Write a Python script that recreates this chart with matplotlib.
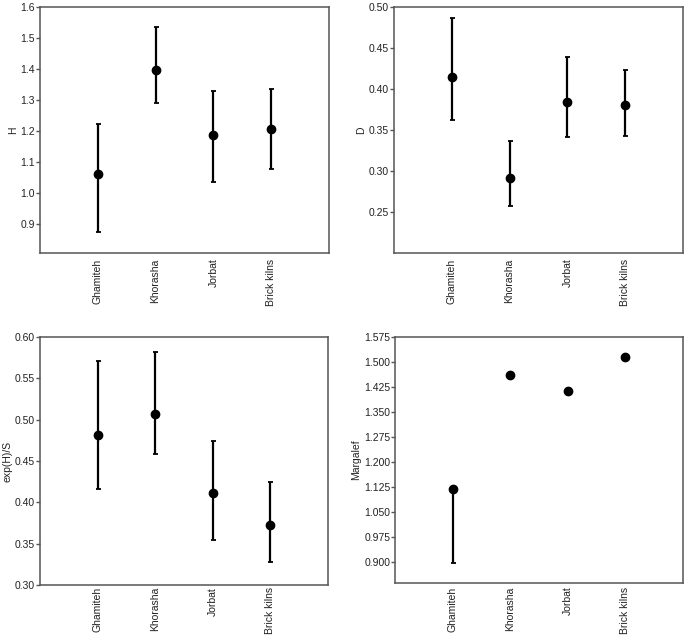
import matplotlib
matplotlib.use("Agg")
import matplotlib.pyplot as plt
import numpy as np

plt.rcParams['font.family'] = ['Liberation Sans', 'DejaVu Sans']

sites = ["Ghamiteh", "Khorasha", "Jorbat", "Brick kilns"]

# Shannon H: mean, lower, upper
h_mean = [1.060, 1.397, 1.186, 1.207]
h_low = [0.872, 1.289, 1.035, 1.078]
h_high = [1.221, 1.536, 1.329, 1.334]

# Dominance D
d_mean = [0.415, 0.292, 0.3845, 0.380]
d_low = [0.362, 0.257, 0.342, 0.343]
d_high = [0.487, 0.336, 0.439, 0.423]

# Evenness exp(H)/S
e_mean = [0.482, 0.507, 0.411, 0.373]
e_low = [0.416, 0.458, 0.354, 0.328]
e_high = [0.571, 0.582, 0.474, 0.424]

# Margalef (only Ghamiteh has a lower bar)
m_mean = [1.120, 1.461, 1.414, 1.515]
m_low = [0.898, 1.461, 1.414, 1.515]
m_high = [1.120, 1.461, 1.414, 1.515]

panels = [
    dict(mean=h_mean, low=h_low, high=h_high, label="H",
         ylim=(0.805, 1.6), ticks=np.arange(0.9, 1.61, 0.1), fmt="{:.1f}",
         rect=[40 / 685, 1 - 253 / 639, 289 / 685, 246 / 639], xpad=4),
    dict(mean=d_mean, low=d_low, high=d_high, label="D",
         ylim=(0.2, 0.5), ticks=np.arange(0.25, 0.501, 0.05), fmt="{:.2f}",
         rect=[394 / 685, 1 - 253 / 639, 289 / 685, 246 / 639], xpad=4),
    dict(mean=e_mean, low=e_low, high=e_high, label="exp(H)/S",
         ylim=(0.3, 0.6), ticks=np.arange(0.30, 0.601, 0.05), fmt="{:.2f}",
         rect=[40 / 685, 1 - 585 / 639, 288 / 685, 248 / 639], xpad=1.5),
    dict(mean=m_mean, low=m_low, high=m_high, label="Margalef",
         ylim=(0.837, 1.575), ticks=np.arange(0.900, 1.5751, 0.075), fmt="{:.3f}",
         rect=[395 / 685, 1 - 583 / 639, 288 / 685, 246 / 639], xpad=2.5),
]

fig = plt.figure(figsize=(6.85, 6.39), dpi=100)
x = np.arange(len(sites))

for p in panels:
    ax = fig.add_axes(p["rect"])
    mean = np.array(p["mean"])
    yerr = [mean - np.array(p["low"]), np.array(p["high"]) - mean]
    ax.errorbar(x, mean, yerr=yerr, fmt="o", color="black", ms=6,
                elinewidth=1.6, capsize=1.8, capthick=1.3)
    ax.set_xlim(-1, 4)
    ax.set_ylim(*p["ylim"])
    ax.set_yticks(p["ticks"])
    ax.set_yticklabels([p["fmt"].format(t) for t in p["ticks"]])
    ax.set_xticks(x)
    ax.set_xticklabels(sites, rotation=90)
    ax.set_ylabel(p["label"], fontsize=7.5, color="#222222", labelpad=2)
    ax.tick_params(axis="y", length=3, width=1, color="#555555",
                   labelsize=7.5, labelcolor="#222222", pad=0.5)
    ax.tick_params(axis="x", length=0, labelsize=7.5, labelcolor="#222222",
                   pad=p["xpad"])
    for s in ax.spines.values():
        s.set_color("#555555")
        s.set_linewidth(1.1)

fig.savefig("out.png", dpi=100)
